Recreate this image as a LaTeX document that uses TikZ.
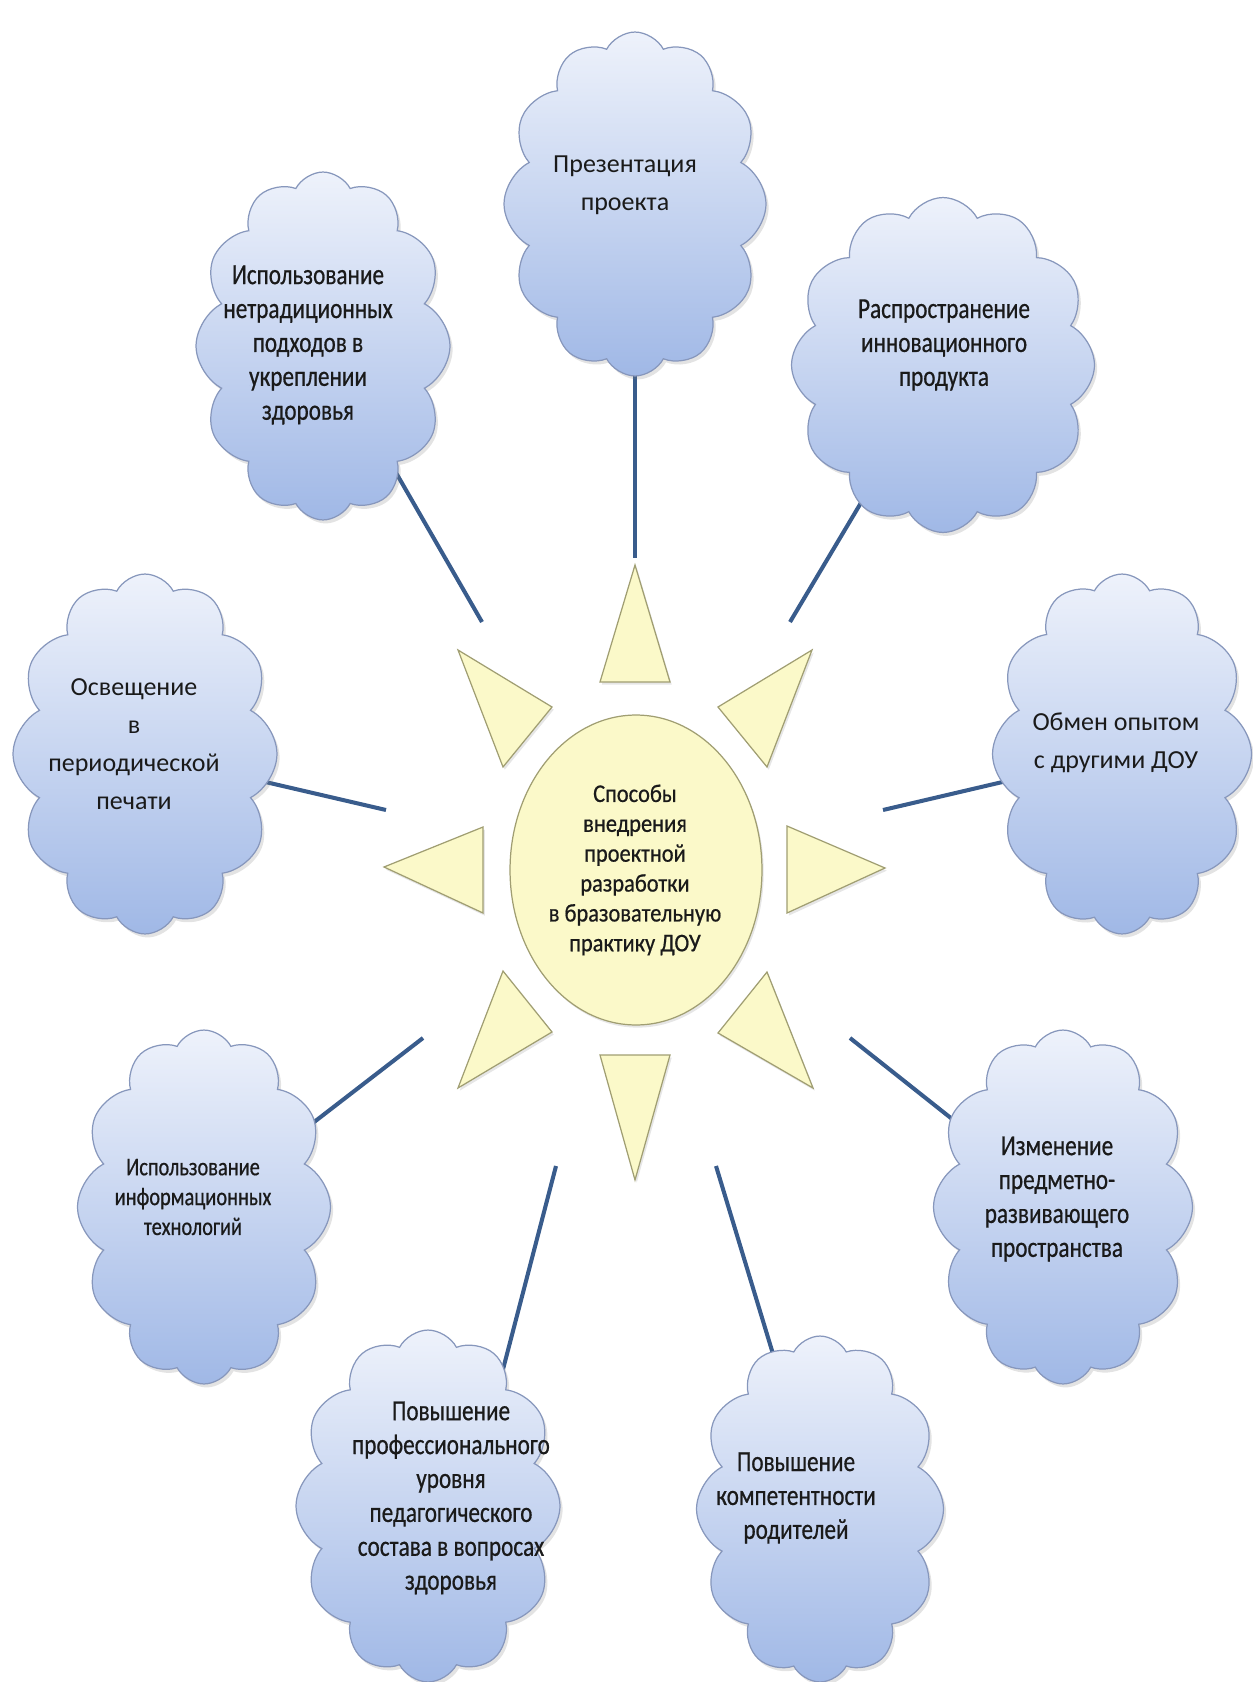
\documentclass[tikz,border=0pt]{standalone}
\usepackage{fontspec}
\setmainfont{Carlito}
\newfontfamily\condf[FakeStretch=0.8,FakeBold=0.6]{Carlito}
\newfontfamily\midf[FakeStretch=0.88,FakeBold=0.6]{Carlito}
\usetikzlibrary{shapes.symbols,shapes.geometric,shadows,backgrounds}
\definecolor{cloudtop}{HTML}{EEF2FB}
\definecolor{cloudbot}{HTML}{A0B8E6}
\definecolor{cloudline}{HTML}{8797BC}
\definecolor{sunfill}{HTML}{FBF9C9}
\definecolor{sunline}{HTML}{A09E72}
\definecolor{linkc}{HTML}{395C8C}
\definecolor{txt}{HTML}{1A1A1A}
\begin{document}
\begin{tikzpicture}[x=0.02cm,y=-0.02cm,
  cloudbox/.style={cloud, cloud puffs=12, cloud puff arc=125, cloud ignores aspect,
    draw=cloudline, line width=0.7pt, top color=cloudtop, bottom color=cloudbot,
    drop shadow={shadow xshift=1.5pt, shadow yshift=-2pt, opacity=0.22}},
  condtext/.style={align=center, text=txt, font=\condf\fontsize{16.5}{19.3}\selectfont},
  widetext/.style={align=center, text=txt, font=\fontsize{14.8}{21.6}\selectfont},
  smalltext/.style={align=center, text=txt, font=\midf\fontsize{14.5}{17}\selectfont},
  smallcond/.style={align=center, text=txt, font=\condf\fontsize{14.5}{17}\selectfont},
  sunpart/.style={fill=sunfill, draw=sunline, line width=0.7pt,
    drop shadow={shadow xshift=1pt, shadow yshift=-1.5pt, opacity=0.2}},
  link/.style={draw=linkc, line width=2.3pt}]
\useasboundingbox (0,0) rectangle (1252,1682);

% clouds
\node[cloudbox, minimum width=5.24cm, minimum height=6.88cm] (cTop) at (635,204) {};
\node[cloudbox, minimum width=5.08cm, minimum height=6.96cm] (cUL) at (323,346) {};
\node[cloudbox, minimum width=6.06cm, minimum height=6.7cm] (cUR) at (943,365) {};
\node[cloudbox, minimum width=5.28cm, minimum height=7.2cm] (cL) at (145,754) {};
\node[cloudbox, minimum width=5.18cm, minimum height=7.2cm] (cR) at (1122,754) {};
\node[cloudbox, minimum width=5.06cm, minimum height=7.08cm] (cLL) at (204,1207) {};
\node[cloudbox, minimum width=5.18cm, minimum height=7.08cm] (cLR) at (1063,1207) {};
\node[cloudbox, minimum width=5.28cm, minimum height=7.04cm] (cBL) at (428,1506) {};
\node[cloudbox, minimum width=4.94cm, minimum height=6.92cm] (cBR) at (820,1509) {};

% texts
\node[widetext] (tTop) at (625,185) {Презентация\\проекта};
\node[condtext] (tUL) at (308,345) {Использование\\нетрадиционных\\подходов в\\укреплении\\здоровья};
\node[condtext] (tUR) at (944,345) {Распространение\\инновационного\\продукта};
\node[widetext] (tL) at (134,744) {Освещение\\в\\периодической\\печати};
\node[widetext] (tR) at (1116,743) {Обмен опытом\\с другими ДОУ};
\node[smallcond] (tLL) at (193,1197) {Использование\\информационных\\технологий};
\node[condtext] (tLR) at (1057,1199) {Изменение\\предметно-\\развивающего\\пространства};
\node[condtext] (tBL) at (451,1498) {Повышение\\профессионального\\уровня\\педагогического\\состава в вопросах\\здоровья};
\node[condtext] (tBR) at (796,1498) {Повышение\\компетентности\\родителей};

% sun
\node[ellipse, sunpart, minimum width=5.04cm, minimum height=6.2cm] (sun) at (636,870) {};
\node[smalltext] (tSun) at (635,870) {Способы\\внедрения\\проектной\\разработки\\в бразовательную\\практику ДОУ};

\path[sunpart] (635,565) -- (600,682) -- (670,682) -- cycle;
\path[sunpart] (600,1055) -- (670,1055) -- (635,1180) -- cycle;
\path[sunpart] (384,867) -- (483,827) -- (483,913) -- cycle;
\path[sunpart] (885,868) -- (787,826) -- (787,913) -- cycle;
\path[sunpart] (458,650) -- (552,707) -- (503,767) -- cycle;
\path[sunpart] (812,650) -- (718,707) -- (767,767) -- cycle;
\path[sunpart] (503,971) -- (552,1032) -- (458,1088) -- cycle;
\path[sunpart] (767,972) -- (718,1033) -- (813,1088) -- cycle;

% connector ends
\coordinate (eTop) at (635,558);
\coordinate (eUL) at (482,622);
\coordinate (eUR) at (790,622);
\coordinate (eL) at (386,810);
\coordinate (eR) at (883,810);
\coordinate (eLL) at (423,1038);
\coordinate (eLR) at (850,1038);
\coordinate (eBL) at (556,1166);
\coordinate (eBR) at (716,1166);

\begin{scope}[on background layer]
\draw[link] (cTop.center) -- (eTop);
\draw[link] (cUL.center) -- (eUL);
\draw[link] (cUR.center) -- (eUR);
\draw[link] (cL.center) -- (eL);
\draw[link] (cR.center) -- (eR);
\draw[link] (cLL.center) -- (eLL);
\draw[link] (cLR.center) -- (eLR);
\draw[link] ([shift={(67,-106)}]cBL.center) -- (eBL);
\draw[link] (cBR.center) -- (eBR);
\end{scope}
\end{tikzpicture}
\end{document}
